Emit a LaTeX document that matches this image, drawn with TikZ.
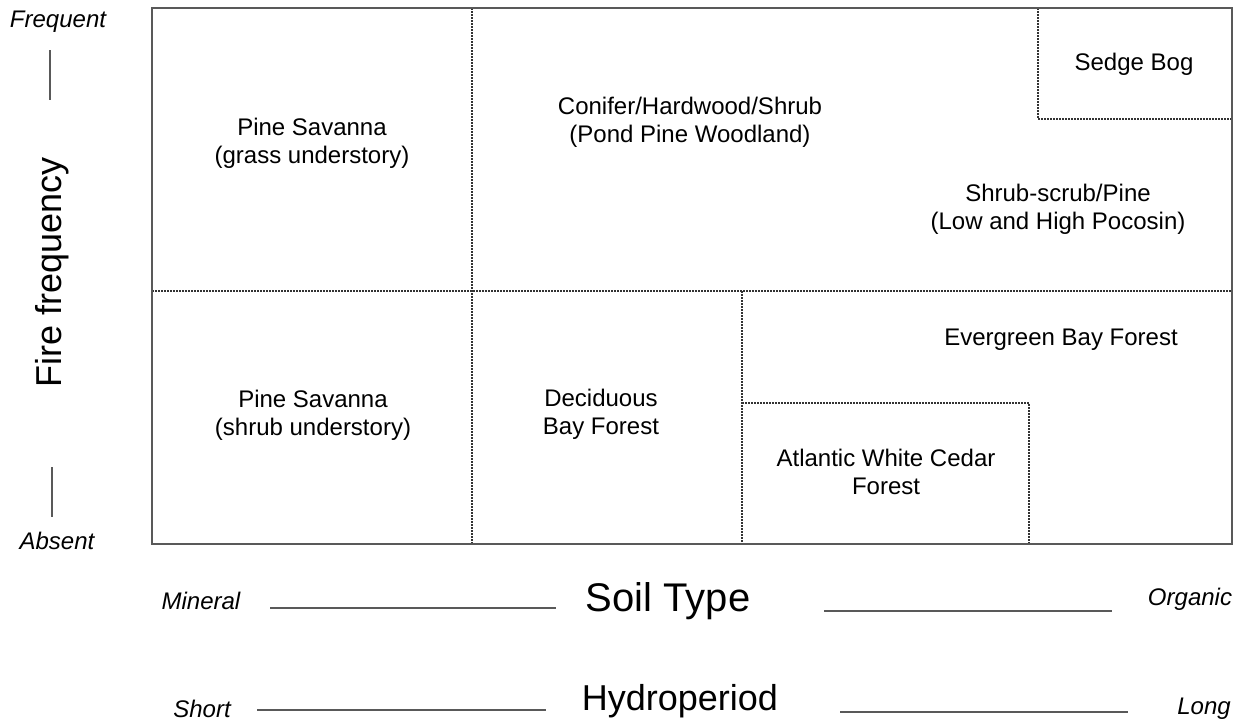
\documentclass[tikz,border=0pt]{standalone}
\usepackage{fontspec}
\setmainfont{Liberation Sans}
\usetikzlibrary{positioning, calc}
\tikzset{
  % Frame and zone boundaries
  frameline/.style={draw=black!65, line width=2pt},
  zoneline/.style={draw=black!80, line width=1.8pt, dash pattern=on 1.5pt off 1.5pt},
  % Text nodes
  zonelabel/.style={align=center, inner sep=0pt, font=\fontsize{24}{28}\selectfont},
  endlabel/.style={inner sep=0pt, font=\fontsize{24}{28}\selectfont\itshape},
  axislabel/.style={inner sep=0pt, font=\fontsize{36}{40}\selectfont},
  % Axis bars
  axisbar/.style={draw=black!65, line width=2pt},
}
\begin{document}
\begin{tikzpicture}[x=1pt, y=-1pt]
  \useasboundingbox (0,0) rectangle (1243,723);

  % Zone boundaries
  \draw[zoneline] (472,8) -- (472,544);
  \draw[zoneline] (152,291) -- (1232,291);
  \draw[zoneline] (742,291) -- (742,544);
  \draw[zoneline] (742,403) -- (1029,403) -- (1029,544);
  \draw[zoneline] (1038,8) -- (1038,119) -- (1232,119);

  % Frame
  \draw[frameline] (152,8) rectangle (1232,544);

  % Zone labels
  \node[zonelabel] (savgrass) at (312,143) {Pine Savanna\\(grass understory)};
  \node[zonelabel] (conifer) at (690,122) {Conifer/Hardwood/Shrub\\(Pond Pine Woodland)};
  \node[zonelabel] (sedge) at (1134,64) {Sedge Bog};
  \node[zonelabel] (pocosin) at (1058,209) {Shrub-scrub/Pine\\(Low and High Pocosin)};
  \node[zonelabel] (savshrub) at (313,415) {Pine Savanna\\(shrub understory)};
  \node[zonelabel] (decid) at (601,414) {Deciduous\\Bay Forest};
  \node[zonelabel] (evergreen) at (1061,340) {Evergreen Bay Forest};
  \node[zonelabel] (cedar) at (886,472) {Atlantic White Cedar\\Forest};

  % Fire frequency axis
  \node[endlabel] (frequent) at (58,22) {Frequent};
  \node[endlabel] (absent) at (57,541) {Absent};
  \node[axislabel, rotate=90] (fire) at (52,272) {Fire frequency};
  \draw[axisbar] (50,50) -- (50,100);
  \draw[axisbar] (52,467) -- (52,517);

  % Soil type axis
  \node[endlabel] (mineral) at (201,601) {Mineral};
  \node[axislabel, font=\fontsize{40}{44}\selectfont] (soil) at (668,601) {Soil Type};
  \node[endlabel] (organic) at (1190,599) {Organic};
  \draw[axisbar] (270,608) -- (556,608);
  \draw[axisbar] (824,611) -- (1112,611);

  % Hydroperiod axis
  \node[endlabel] (short) at (202,709) {Short};
  \node[axislabel] (hydro) at (680,701) {Hydroperiod};
  \node[endlabel] (long) at (1204,709) {Long};
  \draw[axisbar] (257,710) -- (546,710);
  \draw[axisbar] (840,712) -- (1128,712);

\end{tikzpicture}
\end{document}
